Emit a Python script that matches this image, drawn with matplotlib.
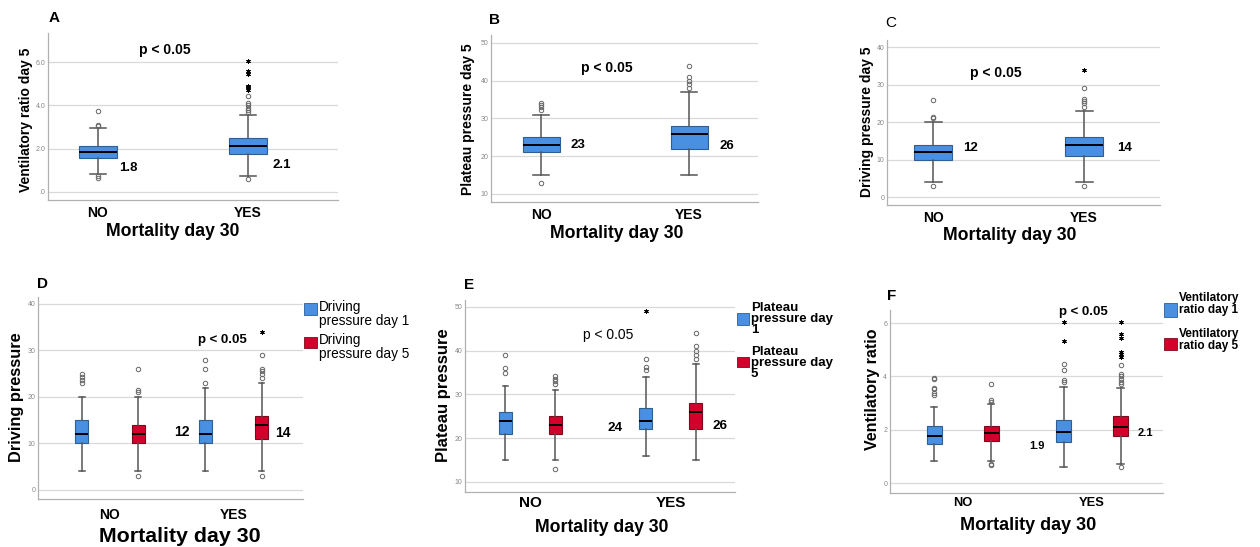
import matplotlib
matplotlib.use("Agg")
import matplotlib.pyplot as plt
from matplotlib.patches import Rectangle

plt.rcParams["font.family"] = ["Liberation Sans", "DejaVu Sans"]

# five-number summaries: whisker low, Q1, median, Q3, whisker high
groups = ["NO", "YES"]

# ventilatory ratio
vr1_no = [0.81, 1.46, 1.78, 2.15, 2.84]
vr1_no_out = [3.30, 3.36, 3.52, 3.58, 3.90, 3.95]
vr1_no_ext = []
vr1_yes = [0.59, 1.53, 1.93, 2.38, 3.61]
vr1_yes_out = [3.80, 3.87, 4.24, 4.46]
vr1_yes_ext = [5.34, 6.03]
vr5_no = [0.83, 1.59, 1.86, 2.14, 2.95]
vr5_no_out = [0.66, 0.72, 3.05, 3.10, 3.73]
vr5_no_ext = []
vr5_yes = [0.72, 1.75, 2.11, 2.50, 3.57]
vr5_yes_out = [0.59, 3.71, 3.80, 3.90, 4.00, 4.10, 4.41]
vr5_yes_ext = [4.72, 4.84, 4.90, 5.43, 5.60, 6.05]

# plateau pressure
pp1_no = [15, 21, 24, 26, 32]
pp1_no_out = [35, 36, 39]
pp1_no_ext = []
pp1_yes = [16, 22, 24, 27, 34]
pp1_yes_out = [35.5, 36.2, 38]
pp1_yes_ext = [49]
pp5_no = [15, 21, 23, 25, 31]
pp5_no_out = [13, 32.3, 33.0, 33.6, 34.2]
pp5_no_ext = []
pp5_yes = [15, 22, 26, 28, 37]
pp5_yes_out = [38, 39, 40, 41, 44]
pp5_yes_ext = []

# driving pressure
dp1_no = [4, 10, 12, 15, 20]
dp1_no_out = [23, 23.7, 24.4, 25]
dp1_no_ext = []
dp1_yes = [4, 10, 12, 15, 22]
dp1_yes_out = [23, 26, 28]
dp1_yes_ext = []
dp5_no = [4, 10, 12, 14, 20]
dp5_no_out = [3, 21, 21.4, 26]
dp5_no_ext = []
dp5_yes = [4, 11, 14, 16, 23]
dp5_yes_out = [3, 24, 25, 25.6, 26.1, 29]
dp5_yes_ext = [34]

W, H = 1260, 547
BLUE, BLUE_EDGE = "#4a90e2", "#2d5f95"
RED, RED_EDGE = "#d4002c", "#7d0a1c"


def px_axes(fig, left, top, right, bottom):
    return fig.add_axes([left / W, 1 - bottom / H,
                         (right - left) / W, (bottom - top) / H])


def ptext(fig, x, y, s, **kw):
    kw.setdefault("ha", "center")
    kw.setdefault("va", "center")
    fig.text(x / W, 1 - y / H, s, **kw)


def draw_boxes(ax, positions, series, width, face, edge):
    stats = []
    for five, out, ext in series:
        lo, q1, med, q3, hi = five
        stats.append(dict(whislo=lo, q1=q1, med=med, q3=q3, whishi=hi,
                          fliers=out))
    parts = ax.bxp(stats, positions=positions, widths=width,
                   capwidths=width * 0.45, patch_artist=True,
                   boxprops=dict(facecolor=face, edgecolor=edge, lw=0.8),
                   medianprops=dict(color="black", lw=1.4),
                   whiskerprops=dict(color="#555555", lw=1.1),
                   capprops=dict(color="#555555", lw=1.1),
                   flierprops=dict(marker="o", markersize=3.2,
                                   markerfacecolor="none",
                                   markeredgecolor="#666666",
                                   markeredgewidth=0.7))
    for pos, (five, out, ext) in zip(positions, series):
        if ext:
            ax.plot([pos] * len(ext), ext, ls="none", marker=(6, 2, 0),
                    ms=3.2, mew=0.7, color="black")
    return parts


def style_axes(ax, ylim, yticks, ylabels, xlim, xpad, xsize):
    ax.set_ylim(*ylim)
    ax.set_xlim(*xlim)
    ax.set_yticks(yticks)
    ax.set_yticklabels(ylabels, fontsize=5, color="#888888")
    ax.set_xticks([1, 2])
    ax.set_xticklabels(groups, fontsize=xsize, fontweight="bold")
    ax.tick_params(length=0)
    ax.tick_params(axis="x", pad=xpad)
    ax.tick_params(axis="y", pad=2)
    ax.yaxis.grid(True, color="#d9d9d9", lw=0.9)
    ax.set_axisbelow(True)
    for side in ("top", "right"):
        ax.spines[side].set_visible(False)
    for side in ("left", "bottom"):
        ax.spines[side].set_color("#b0b0b0")
        ax.spines[side].set_linewidth(0.9)


fig = plt.figure(figsize=(W / 100, H / 100), dpi=100)

# ---- top row: day 5 only ----
top_panels = [
    ("A", (48, 33, 338, 200), (-0.37, 7.34), [0, 2, 4, 6], [".0", "2.0", "4.0", "6.0"],
     (0.667, 2.6), [(vr5_no, vr5_no_out, vr5_no_ext), (vr5_yes, vr5_yes_out, vr5_yes_ext)],
     "Ventilatory ratio day 5", (26, 120), (54, 18), (165, 50),
     ["1.8", "2.1"], [(128, 168), (282, 165)], (173, 231), 4.5),
    ("B", (491, 35, 758, 202), (7.88, 52.1), [10, 20, 30, 40, 50], ["10", "20", "30", "40", "50"],
     (0.662, 2.466), [(pp5_no, pp5_no_out, pp5_no_ext), (pp5_yes, pp5_yes_out, pp5_yes_ext)],
     "Plateau pressure day 5", (468, 119), (494, 20), (607, 68),
     ["23", "26"], [(578, 145), (727, 146)], (617, 234), 4),
    ("C", (887, 40, 1160, 205), (-2.13, 41.9), [0, 10, 20, 30, 40], ["0", "10", "20", "30", "40"],
     (0.695, 2.503), [(dp5_no, dp5_no_out, dp5_no_ext), (dp5_yes, dp5_yes_out, dp5_yes_ext)],
     "Driving pressure day 5", (867, 122), (891, 23), (996, 73),
     ["12", "14"], [(970, 148), (1125, 148)], (1010, 236), 4.5),
]

for (letter, rect, ylim, yt, ytl, xlim, series, ylab, ylab_pos, let_pos,
     p_pos, med_txt, med_pos, xlab_pos, xpad) in top_panels:
    ax = px_axes(fig, *rect)
    draw_boxes(ax, [1, 2], series, 0.25, BLUE, BLUE_EDGE)
    style_axes(ax, ylim, yt, ytl, xlim, xpad, 10)
    ptext(fig, *ylab_pos, ylab, rotation=90, fontsize=10, fontweight="bold")
    ptext(fig, *let_pos, letter, fontsize=11,
          fontweight="normal" if letter == "C" else "bold")
    ptext(fig, *p_pos, "p < 0.05", fontsize=10, fontweight="bold")
    for t, pos in zip(med_txt, med_pos):
        ptext(fig, *pos, t, fontsize=9.5, fontweight="bold")
    ptext(fig, *xlab_pos, "Mortality day 30", fontsize=12.7, fontweight="bold")

# ---- bottom row: day 1 vs day 5 ----
bottom_panels = [
    ("D", (38, 297, 303, 499), (-1.94, 41.5), [0, 10, 20, 30, 40], ["0", "10", "20", "30", "40"],
     (0.417, 2.563), 0.227, 0.105,
     [(dp1_no, dp1_no_out, dp1_no_ext), (dp1_yes, dp1_yes_out, dp1_yes_ext)],
     [(dp5_no, dp5_no_out, dp5_no_ext), (dp5_yes, dp5_yes_out, dp5_yes_ext)],
     "Driving pressure", (17, 397), 11.8, (42, 284), (222, 340), "bold",
     ["12", "14"], [(182, 432), (283, 433)], 10,
     (180, 537), 15.4, 6.5, 10,
     ["Driving\npressure day 1", "Driving\npressure day 5"], "normal", 9.8, 1.05,
     (304, 317), [(303, 315), (337, 348)], [314, 347], 319),
    ("E", (465, 300, 735, 492), (7.71, 51.6), [10, 20, 30, 40, 50], ["10", "20", "30", "40", "50"],
     (0.534, 2.456), 0.178, 0.093,
     [(pp1_no, pp1_no_out, pp1_no_ext), (pp1_yes, pp1_yes_out, pp1_yes_ext)],
     [(pp5_no, pp5_no_out, pp5_no_ext), (pp5_yes, pp5_yes_out, pp5_yes_ext)],
     "Plateau pressure", (443, 395), 12, (469, 285), (608, 335), "normal",
     ["24", "26"], [(615, 428), (720, 426)], 9.7,
     (602, 528), 12.7, 3, 11,
     ["Plateau\npressure day\n1", "Plateau\npressure day\n5"], "bold", 9.5, 0.92,
     (737, 749), [(313, 325), (357, 367)], [319, 363], 751),
    ("F", (890, 310, 1163, 493), (-0.375, 6.49), [0, 2, 4, 6], ["0", "2", "4", "6"],
     (0.44, 2.548), 0.22, 0.116,
     [(vr1_no, vr1_no_out, vr1_no_ext), (vr1_yes, vr1_yes_out, vr1_yes_ext)],
     [(vr5_no, vr5_no_out, vr5_no_ext), (vr5_yes, vr5_yes_out, vr5_yes_ext)],
     "Ventilatory ratio", (872, 389), 11.5, (892, 296), (1083, 312), "bold",
     ["1.9", "2.1"], [(1037, 446), (1145, 433)], 8,
     (1028, 525), 13, 3, 9.3,
     ["Ventilatory\nratio day 1", "Ventilatory\nratio day 5"], "bold", 8.5, 0.95,
     (1164, 1177), [(303, 317), (338, 350)], [304, 340], 1179),
]

for (letter, rect, ylim, yt, ytl, xlim, off, width, day1, day5, ylab, ylab_pos,
     ylab_size, let_pos, p_pos, p_weight, med_txt, med_pos, med_size,
     xlab_pos, xlab_size, xpad, xsize, leg_txt, leg_weight, leg_size, leg_ls,
     patch_x, patch_y, text_y, text_x) in bottom_panels:
    ax = px_axes(fig, *rect)
    draw_boxes(ax, [1 - off, 2 - off], day1, width, BLUE, BLUE_EDGE)
    draw_boxes(ax, [1 + off, 2 + off], day5, width, RED, RED_EDGE)
    style_axes(ax, ylim, yt, ytl, xlim, xpad, xsize)
    ptext(fig, *ylab_pos, ylab, rotation=90, fontsize=ylab_size,
          fontweight="bold")
    ptext(fig, *let_pos, letter, fontsize=11, fontweight="bold")
    ptext(fig, *p_pos, "p < 0.05", fontsize=10 if p_weight == "normal" else 9.5,
          fontweight=p_weight)
    for t, pos in zip(med_txt, med_pos):
        ptext(fig, *pos, t, fontsize=med_size, fontweight="bold")
    ptext(fig, *xlab_pos, "Mortality day 30", fontsize=xlab_size,
          fontweight="bold")

    # legend drawn by hand
    for (y0, y1), face, edge in zip(patch_y, [BLUE, RED], [BLUE_EDGE, RED_EDGE]):
        fig.patches.append(Rectangle((patch_x[0] / W, 1 - y1 / H),
                                     (patch_x[1] - patch_x[0]) / W, (y1 - y0) / H,
                                     transform=fig.transFigure, facecolor=face,
                                     edgecolor=edge, lw=0.6))
    for t, y in zip(leg_txt, text_y):
        ptext(fig, text_x, y, t, ha="left", fontsize=leg_size,
              fontweight=leg_weight, linespacing=leg_ls)

fig.savefig("out.png", dpi=100)
